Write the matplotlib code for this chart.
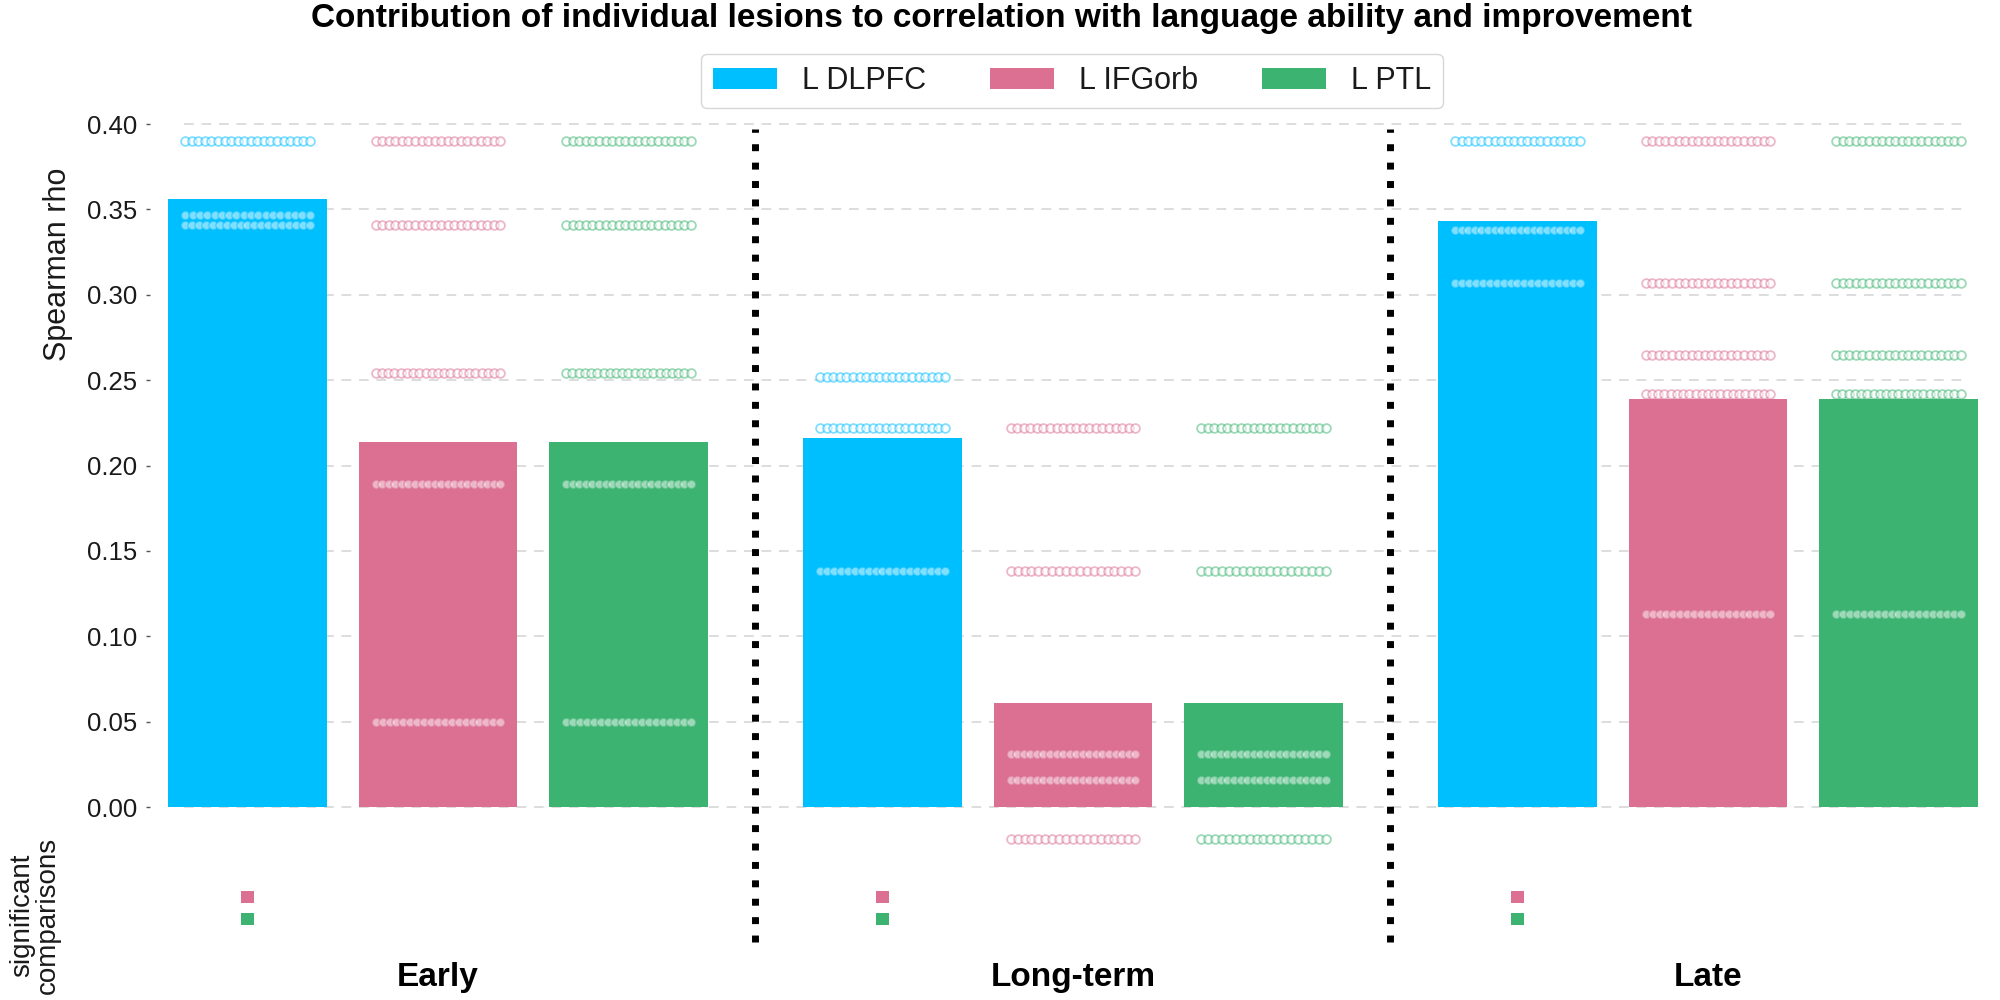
import numpy as np
import matplotlib
matplotlib.use("Agg")
import matplotlib.pyplot as plt
from matplotlib.patches import Patch

# ---- data ----
groups = ["Early", "Long-term", "Late"]
lesions = ["L DLPFC", "L IFGorb", "L PTL"]
colors = ["#00BFFF", "#DB7093", "#3CB371"]

# bar heights per group (Early, Long-term, Late)
rho_dlpfc = [0.356, 0.216, 0.343]
rho_ifgorb = [0.214, 0.061, 0.239]
rho_ptl = [0.214, 0.061, 0.239]

# individual values as (rho, number of points) per group
pts_dlpfc = [
    [(0.390, 20), (0.347, 18), (0.341, 19)],
    [(0.252, 20), (0.222, 20), (0.138, 19)],
    [(0.390, 20), (0.338, 20), (0.307, 19)],
]
pts_ifgorb = [
    [(0.390, 20), (0.341, 20), (0.254, 21), (0.189, 20), (0.050, 19)],
    [(0.222, 20), (0.138, 19), (0.031, 20), (0.016, 20), (-0.019, 19)],
    [(0.390, 20), (0.307, 20), (0.265, 20), (0.242, 21), (0.113, 19)],
]
pts_ptl = [
    [(0.390, 20), (0.341, 20), (0.254, 21), (0.189, 20), (0.050, 19)],
    [(0.222, 20), (0.138, 19), (0.031, 20), (0.016, 20), (-0.019, 19)],
    [(0.390, 20), (0.307, 20), (0.265, 20), (0.242, 21), (0.113, 19)],
]

# significant comparisons (DLPFC vs IFGorb, DLPFC vs PTL) per group
sig_ifgorb = [True, True, True]
sig_ptl = [True, True, True]

yticks = [0.00, 0.05, 0.10, 0.15, 0.20, 0.25, 0.30, 0.35, 0.40]

# ---- styling ----
LIGHT = ["Liberation Sans", "DejaVu Sans"]
BOLD = ["Liberation Sans", "DejaVu Sans"]
TXT = "#1a1a1a"

fig = plt.figure(figsize=(20, 10), dpi=100)
ax = fig.add_axes([0.075, 0.0564, 0.9225, 0.8366])

offsets = [-0.3, 0.0, 0.3]
bar_w = 0.25
x = np.arange(len(groups))

# grid lines
ax.hlines(yticks, -0.4, 2.4, colors="#dddddd", linestyles=(0, (5, 4)),
          linewidth=1.4, zorder=0)

for k, (vals, pts, col) in enumerate(zip([rho_dlpfc, rho_ifgorb, rho_ptl],
                                         [pts_dlpfc, pts_ifgorb, pts_ptl], colors)):
    ax.bar(x + offsets[k], vals, width=bar_w, color=col, zorder=2)
    for g in range(len(groups)):
        for level, n in pts[g]:
            xs = x[g] + offsets[k] + np.linspace(-0.098, 0.098, n)
            ax.plot(xs, [level] * n, "o", ms=6.3, mfc="white", mec=col,
                    mew=1.3, alpha=0.5, zorder=3)

# separators
for sx in [0.5, 1.5]:
    ax.vlines(sx, -0.079, 0.397, colors="black", linestyles=":",
              linewidth=5, zorder=4)

# significance markers
for g in range(len(groups)):
    if sig_ifgorb[g]:
        ax.bar(x[g] - 0.3, 0.007, bottom=-0.0562, width=0.019,
               color=colors[1], zorder=3)
    if sig_ptl[g]:
        ax.bar(x[g] - 0.3, 0.007, bottom=-0.0691, width=0.019,
               color=colors[2], zorder=3)

ax.set_xlim(-0.4535, 2.452)
ax.set_ylim(-0.08, 0.41)
ax.set_yticks(yticks)
ax.set_yticklabels([f"{v:.2f}" for v in yticks], family=LIGHT,
                   fontsize=18.5, color=TXT)
ax.tick_params(axis="y", length=3, width=1, color="#555555", pad=6)
ax.set_xticks([])
for s in ax.spines.values():
    s.set_visible(False)

for g, name in enumerate(groups):
    ax.text(x[g], -0.1, name, ha="center", va="center", fontsize=24,
            fontweight="bold", family=BOLD, clip_on=False)

fig.text(0.029, 0.736, "Spearman rho", rotation=90, ha="center", va="center",
         fontsize=22, family=LIGHT, color=TXT)
fig.text(0.0175, 0.085, "significant\ncomparisons", rotation=90, ha="center",
         va="center", fontsize=20, family=LIGHT, color=TXT,
         multialignment="center", linespacing=0.95)

fig.text(0.5006, 0.981, "Contribution of individual lesions to correlation with language ability and improvement",
         ha="center", va="center", fontsize=24, fontweight="bold", family=BOLD)

handles = [Patch(facecolor=c, edgecolor="none", label=l) for c, l in zip(colors, lesions)]
leg = fig.legend(handles=handles, loc="center", bbox_to_anchor=(0.536, 0.919),
                 ncol=3, frameon=True, handlelength=2.1,
                 handleheight=0.7, handletextpad=0.8, columnspacing=2.1,
                 borderpad=0.4, prop={"family": LIGHT, "size": 22})
for t in leg.get_texts():
    t.set_color(TXT)
leg.get_frame().set_edgecolor("#cccccc")
leg.get_frame().set_linewidth(1.0)

fig.savefig("out.png", dpi=100, facecolor="white")
